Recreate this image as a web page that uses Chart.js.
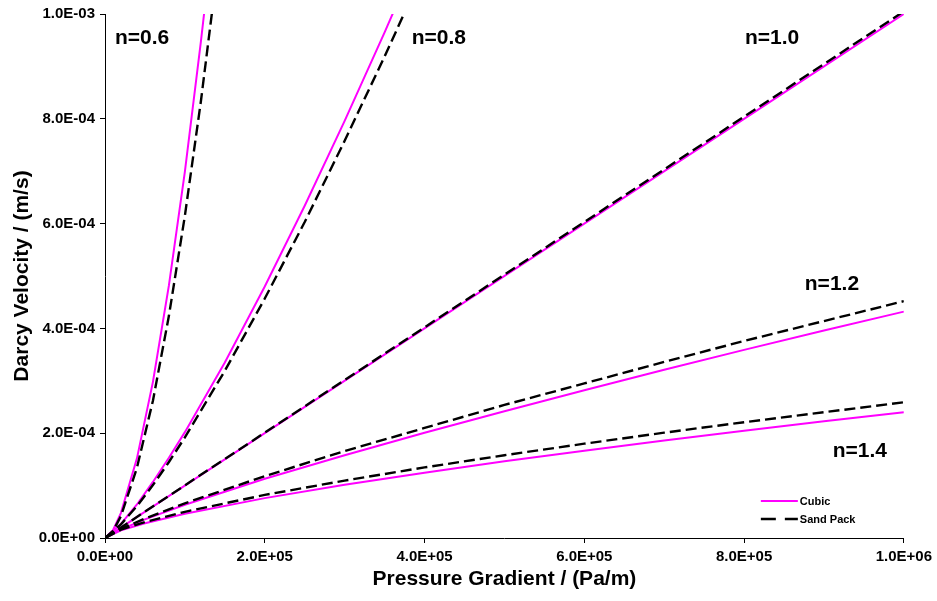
<!DOCTYPE html>
<html>
<head>
<meta charset="utf-8">
<script src="https://cdn.jsdelivr.net/npm/chart.js@4/dist/chart.umd.min.js"></script>
<style>
  html, body { margin: 0; padding: 0; background: #ffffff; }
  #wrap { width: 937px; height: 601px; }
</style>
</head>
<body>
<div id="wrap"><canvas id="c" width="937" height="601"></canvas></div>
<script>
// ---- Data (x: Pa/m, y: m/s) ----
const n06X      = [0, 1e4, 2e4, 4e4, 6e4, 8e4, 1e5, 1.2e5, 1.3e5];
const n06Cubic  = [0, 1.5e-5, 4.8e-5, 1.52e-4, 2.98e-4, 4.82e-4, 6.99e-4, 9.47e-4, 1.08e-3];
const n06SandX  = [0, 1e4, 2e4, 4e4, 6e4, 8e4, 1e5, 1.2e5, 1.4e5];
const n06Sand   = [0, 1.3e-5, 4.2e-5, 1.34e-4, 2.62e-4, 4.24e-4, 6.15e-4, 8.33e-4, 1.077e-3];

const n08X      = [0, 2e4, 4e4, 6e4, 8e4, 1e5, 1.5e5, 2e5, 2.5e5, 3e5, 3.5e5, 4e5];
const n08Cubic  = [0, 2.7e-5, 6.4e-5, 1.07e-4, 1.53e-4, 2.02e-4, 3.35e-4, 4.80e-4, 6.34e-4, 7.96e-4, 9.65e-4, 1.14e-3];
const n08Sand   = [0, 2.6e-5, 6.1e-5, 1.01e-4, 1.45e-4, 1.92e-4, 3.19e-4, 4.57e-4, 6.03e-4, 7.58e-4, 9.19e-4, 1.086e-3];

const n10X      = [0, 2e5, 4e5, 6e5, 8e5, 1e6];
const n10Cubic  = [0, 2e-4, 4e-4, 6e-4, 8e-4, 1e-3];
const n10Sand   = [0, 2.01e-4, 4.02e-4, 6.03e-4, 8.04e-4, 1.005e-3];

const n12X      = [0, 2e4, 5e4, 1e5, 2e5, 3e5, 4e5, 5e5, 6e5, 7e5, 8e5, 9e5, 1e6];
const n12Cubic  = [0, 1.66e-5, 3.56e-5, 6.34e-5, 1.13e-4, 1.58e-4, 2.01e-4, 2.42e-4, 2.82e-4, 3.21e-4, 3.59e-4, 3.96e-4, 4.32e-4];
const n12Sand   = [0, 1.74e-5, 3.72e-5, 6.63e-5, 1.18e-4, 1.66e-4, 2.10e-4, 2.54e-4, 2.95e-4, 3.36e-4, 3.76e-4, 4.14e-4, 4.52e-4];

const n14X      = [0, 2e4, 5e4, 1e5, 2e5, 3e5, 4e5, 5e5, 6e5, 7e5, 8e5, 9e5, 1e6];
const n14Cubic  = [0, 1.47e-5, 2.82e-5, 4.63e-5, 7.61e-5, 1.015e-4, 1.247e-4, 1.463e-4, 1.666e-4, 1.86e-4, 2.046e-4, 2.226e-4, 2.40e-4];
const n14Sand   = [0, 1.59e-5, 3.05e-5, 5.0e-5, 8.22e-5, 1.096e-4, 1.347e-4, 1.58e-4, 1.80e-4, 2.01e-4, 2.21e-4, 2.40e-4, 2.59e-4];

const seriesNames = ['Cubic', 'Sand Pack'];
const curveLabels = ['n=0.6', 'n=0.8', 'n=1.0', 'n=1.2', 'n=1.4'];
// label anchor points in data units (left edge, vertical centre)
const curveLabelX = [1.25e4, 3.84e5, 8.01e5, 8.76e5, 9.11e5];
const curveLabelY = [9.54e-4, 9.54e-4, 9.54e-4, 4.84e-4, 1.66e-4];

const xTicks = [0, 2e5, 4e5, 6e5, 8e5, 1e6];
const yTicks = [0, 2e-4, 4e-4, 6e-4, 8e-4, 1e-3];

// ---- helpers ----
function pts(xs, ys) { return xs.map((x, i) => ({ x: x, y: ys[i] })); }
function fmtE(v) {
  const s = Number(v).toExponential(1).toUpperCase();
  return s.replace(/E([+-])(\d)$/, 'E$10$2');
}
const MAGENTA = '#FF00FF';
const FONT = "'Liberation Sans', Arial, Helvetica, sans-serif";

function cubic(data) {
  return { label: seriesNames[0], data: data, borderColor: MAGENTA, backgroundColor: MAGENTA,
           borderWidth: 2, pointRadius: 0, showLine: true, tension: 0, fill: false, order: 2 };
}
function sand(data) {
  return { label: seriesNames[1], data: data, borderColor: '#000000', backgroundColor: '#000000',
           borderWidth: 2.4, borderDash: [11, 5], pointRadius: 0, showLine: true, tension: 0, fill: false, order: 1 };
}

const datasets = [
  cubic(pts(n06X, n06Cubic)), sand(pts(n06SandX, n06Sand)),
  cubic(pts(n08X, n08Cubic)), sand(pts(n08X, n08Sand)),
  cubic(pts(n10X, n10Cubic)), sand(pts(n10X, n10Sand)),
  cubic(pts(n12X, n12Cubic)), sand(pts(n12X, n12Sand)),
  cubic(pts(n14X, n14Cubic)), sand(pts(n14X, n14Sand))
];

const labelPlugin = {
  id: 'curveLabels',
  afterDatasetsDraw(chart) {
    const ctx = chart.ctx, xs = chart.scales.x, ys = chart.scales.y;
    ctx.save();
    ctx.fillStyle = '#000';
    ctx.font = 'bold 21px ' + FONT;
    ctx.textAlign = 'left';
    ctx.textBaseline = 'middle';
    curveLabels.forEach((t, i) => {
      ctx.fillText(t, xs.getPixelForValue(curveLabelX[i]), ys.getPixelForValue(curveLabelY[i]));
    });
    // legend (bottom-right inside plot)
    const lx = chart.chartArea.right - 143;
    const ly1 = chart.chartArea.bottom - 37;
    const ly2 = chart.chartArea.bottom - 19;
    ctx.lineWidth = 2;
    ctx.strokeStyle = MAGENTA;
    ctx.setLineDash([]);
    ctx.beginPath(); ctx.moveTo(lx, ly1); ctx.lineTo(lx + 37, ly1); ctx.stroke();
    ctx.strokeStyle = '#000';
    ctx.lineWidth = 2.5;
    ctx.setLineDash([15, 9]);
    ctx.beginPath(); ctx.moveTo(lx, ly2); ctx.lineTo(lx + 37, ly2); ctx.stroke();
    ctx.setLineDash([]);
    ctx.font = 'bold 11px ' + FONT;
    ctx.fillText(seriesNames[0], lx + 39, ly1 + 1);
    ctx.fillText(seriesNames[1], lx + 39, ly2 + 1);
    ctx.restore();
  }
};

new Chart(document.getElementById('c'), {
  type: 'scatter',
  data: { datasets: datasets },
  plugins: [labelPlugin],
  options: {
    responsive: false,
    devicePixelRatio: 1,
    animation: false,
    layout: { padding: { left: 0, right: 33, top: 13, bottom: 0 } },
    plugins: { legend: { display: false }, tooltip: { enabled: false } },
    scales: {
      x: {
        type: 'linear', min: 0, max: 1e6,
        afterBuildTicks: (s) => { s.ticks = xTicks.map(v => ({ value: v })); },
        afterFit: (s) => { s.height = 63; },
        grid: { drawOnChartArea: false, color: '#000', tickLength: 5, tickWidth: 1 },
        border: { color: '#000', width: 1 },
        ticks: { color: '#000', font: { family: FONT, size: 15, weight: 'bold' }, padding: 5,
                 maxRotation: 0, callback: (v) => fmtE(v) },
        title: { display: true, text: 'Pressure Gradient / (Pa/m)', color: '#000',
                 font: { family: FONT, size: 21, weight: 'bold' }, padding: { top: 0, bottom: 9 } }
      },
      y: {
        type: 'linear', min: 0, max: 1e-3,
        afterBuildTicks: (s) => { s.ticks = yTicks.map(v => ({ value: v })); },
        afterFit: (s) => { s.width = 105; },
        grid: { drawOnChartArea: false, color: '#000', tickLength: 5, tickWidth: 1 },
        border: { color: '#000', width: 1 },
        ticks: { color: '#000', font: { family: FONT, size: 15, weight: 'bold' }, padding: 5,
                 callback: (v) => fmtE(v) },
        title: { display: true, text: 'Darcy Velocity / (m/s)', color: '#000',
                 font: { family: FONT, size: 21, weight: 'bold' }, padding: { top: 10, bottom: 0 } }
      }
    }
  }
});
</script>
</body>
</html>
